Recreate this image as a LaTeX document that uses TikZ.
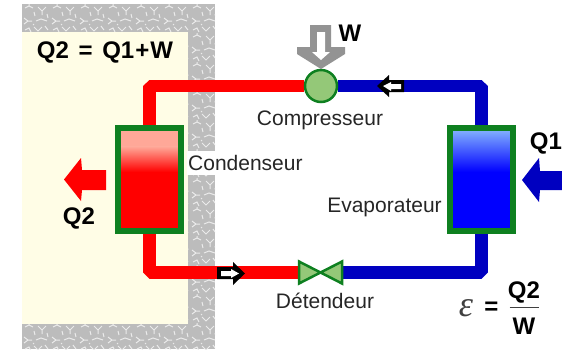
\documentclass[tikz,border=0pt]{standalone}
\usepackage{fontspec}
\setmainfont{Liberation Sans}
\newfontfamily\epsfont{Liberation Serif}
\definecolor{wallgray}{HTML}{BCBCBC}
\definecolor{roomyellow}{HTML}{FFFDE6}
\definecolor{hxgreen}{HTML}{0E8020}
\definecolor{compgreen}{HTML}{94C878}
\definecolor{pipered}{HTML}{FF0000}
\definecolor{pipeblue}{HTML}{0000C0}
\definecolor{arrowgray}{HTML}{939393}
\definecolor{salmon}{HTML}{FFA898}
\definecolor{iceblue}{HTML}{88B8FF}
\pgfdeclarelayer{walllayer}
\pgfdeclarelayer{pipelayer}
\pgfdeclarelayer{filllayer}
\pgfsetlayers{walllayer,pipelayer,filllayer,main}
\tikzset{
  hotpipe/.style={draw=pipered,line width=12.5pt,line join=bevel},
  coldpipe/.style={draw=pipeblue,line width=12.5pt,line join=bevel},
  hxbox/.style={draw=hxgreen,line width=6pt,minimum width=63pt,minimum height=103pt,inner sep=0pt},
  compbox/.style={circle,draw=hxgreen,line width=2.5pt,fill=compgreen,minimum size=32pt,inner sep=0pt},
  valvebox/.style={minimum width=44pt,minimum height=25pt,inner sep=0pt},
  valvepart/.style={draw=hxgreen,fill=compgreen,line width=2.5pt,line join=miter},
  lab/.style={font=\fontsize{21}{23}\selectfont,text=black!85,inner sep=0pt},
  whitelab/.style={lab,fill=white,inner ysep=4pt,inner xsep=1pt},
  boldlab/.style={font=\fontsize{24}{26}\selectfont\bfseries,inner sep=0pt},
  wallmark/.style={draw=white!70!wallgray,line width=1pt}
}
\newcommand{\walltile}[2]{%
  \begin{scope}[shift={(#1,#2)}]
    \draw[wallmark] (3,4)--(7,2)--(11,4) (7,2)--(7,0);
    \draw[wallmark] (16,3)--(20,7)--(24,3) (20,7)--(20,11);
    \draw[wallmark] (2,14)--(6,17)--(2,20) (6,17)--(10,17);
    \draw[wallmark] (14,17)--(19,15)--(25,17);
    \draw[wallmark] (12,23)--(16,27)--(20,23);
    \draw[wallmark] (23,22)--(26,26);
    \draw[wallmark] (3,26)--(7,24)--(9,28);
    \draw[wallmark] (12,8)--(13,12) (25,10)--(26,14) (11,20)--(12,21);
  \end{scope}}
\begin{document}
\begin{tikzpicture}[x=1pt,y=-1pt]
\useasboundingbox (0,0) rectangle (562,349);
% wall and room
\begin{pgfonlayer}{walllayer}
  \begin{scope}
    \clip (22,4) rectangle (215,349);
    \fill[wallgray] (22,4) rectangle (215,349);
    \foreach \i in {0,...,6}{\foreach \j in {0,...,11}{\walltile{22+\i*28}{4+\j*29}}}
  \end{scope}
  \fill[roomyellow] (22,32) rectangle (188,324);
  \fill[white] (188,151) rectangle (215,175);
\end{pgfonlayer}
% exchanger fills
\begin{pgfonlayer}{filllayer}
  \fill[salmon] (118,128) rectangle (181,147);
  \shade[top color=salmon,bottom color=red] (118,146.5) rectangle (181,172);
  \fill[red] (118,171.5) rectangle (181,231);
  \shade[top color=iceblue,bottom color=blue] (450,128) rectangle (513,172);
  \fill[blue] (450,171.5) rectangle (513,231);
\end{pgfonlayer}
% nodes
\node[boldlab] (title) at (105,52) {Q2\hspace{3pt} = \hspace{3pt}Q1\hspace{1pt}+\hspace{1pt}W};
\node[hxbox] (cond) at (149.5,179.5) {};
\node[hxbox] (evap) at (481.5,179.5) {};
\node[compbox] (comp) at (321,86) {};
\node[valvebox] (valve) at (320.5,272.5) {};
% pipes
\begin{pgfonlayer}{pipelayer}
  \draw[hotpipe] (cond.north) |- (comp.west);
  \draw[coldpipe] (comp.east) -| (evap.north);
  \draw[hotpipe] (cond.south) |- (valve.west);
  \draw[coldpipe] (valve.east) -| (evap.south);
\end{pgfonlayer}
% valve
\filldraw[valvepart] (valve.center)--(299,261.5)--(299,283.5)--cycle;
\filldraw[valvepart] (valve.center)--(342,261.5)--(342,283.5)--cycle;
% work arrow
\fill[arrowgray] (310,25)--(331,25)--(331,47)--(345,47)--(345,54)--(321,69)--(297,54)--(297,47)--(310,47)--cycle;
\fill[white] (317,32)--(325,32)--(325,52)--(330,52)--(321,60)--(312,52)--(317,52)--cycle;
% heat arrows
\fill[pipered] (64,179.5)--(81,158)--(82,170)--(106,170)--(106,190)--(82,190)--(81,201)--cycle;
\fill[pipeblue] (522,180)--(539,158)--(540,171)--(562,171)--(562,190)--(540,190)--(539,202)--cycle;
% flow arrows
\fill[black] (377,86)--(389,75)--(389,80)--(404,80)--(404,92)--(389,92)--(389,97)--cycle;
\fill[white] (383,86)--(391,82)--(391,84)--(401,84)--(401,89)--(391,89)--(391,91)--cycle;
\fill[black] (245,273.5)--(233,262)--(233,267)--(217,267)--(217,279)--(233,279)--(233,285)--cycle;
\fill[white] (239,273.5)--(231,269)--(231,271)--(221,271)--(221,276)--(231,276)--(231,278)--cycle;
% labels
\node[boldlab] (wlab) at (350,33) {W};
\node[lab] (complab) at (320,120.5) {Compresseur};
\node[whitelab,anchor=west] (condlab) at (187,163) {Condenseur};
\node[lab] (evaplab) at (384.5,207) {Evaporateur};
\node[lab] (detlab) at (325,301) {Détendeur};
\node[boldlab] (q1lab) at (546,143) {Q1};
\node[boldlab] (q2lab) at (79,218) {Q2};
\node[font=\fontsize{36}{38}\selectfont\epsfont\itshape,text=black!75,inner sep=0pt] (eps) at (466,308) {ε};
\node[boldlab] (eq) at (491.5,308) {=};
\node[boldlab] (num) at (524,292) {Q2};
\node[boldlab] (den) at (524,326) {W};
\draw[line width=1.2pt,black!75] (509.5,307.7) -- (539,307.7);
\end{tikzpicture}
\end{document}
